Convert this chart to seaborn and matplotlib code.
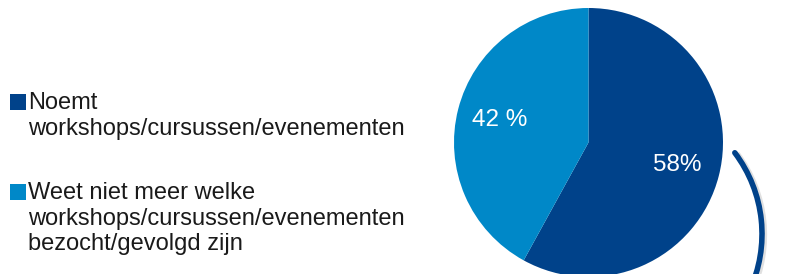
import matplotlib
matplotlib.use("Agg")
import matplotlib.pyplot as plt
from matplotlib.patches import Arc
import seaborn as sns

# data
categories = ["Noemt\nworkshops/cursussen/evenementen",
              "Weet niet meer welke\nworkshops/cursussen/evenementen\nbezocht/gevolgd zijn"]
shares = [58, 42]
pct_labels = ["58%", "42 %"]
colors = ["#00428A", "#0088C8"]

sns.set_theme(style="white")
plt.rcParams["font.family"] = ["Liberation Sans", "DejaVu Sans"]

W, H = 801, 274
fig = plt.figure(figsize=(W / 100, H / 100), dpi=100)

# pie axes (pixel placement)
ax = fig.add_axes([454 / W, -3 / H, 269 / W, 269 / H])
wedges, texts, autotexts = ax.pie(shares, colors=colors, startangle=90, counterclock=False,
                                  autopct="%d%%", pctdistance=0.68, radius=1,
                                  wedgeprops=dict(linewidth=0))
for t, lab in zip(autotexts, pct_labels):
    t.set_text(lab)
    t.set_color("white")
    t.set_fontsize(17.5)
ax.set_xlim(-1, 1)
ax.set_ylim(-1, 1)
ax.set_aspect("equal")
ax.axis("off")

# overlay in pixel coordinates for legend and swoosh
ov = fig.add_axes([0, 0, 1, 1], zorder=-1)
ov.set_xlim(0, W)
ov.set_ylim(H, 0)
ov.axis("off")
ov.patch.set_alpha(0)

# decorative arc
shadow = Arc((629, 235), 270, 270, theta1=-37, theta2=25, color="#e0e0e0", lw=4.5)
ov.add_patch(shadow)
swoosh = Arc((627, 234), 270, 270, theta1=-37, theta2=25, color=colors[0], lw=4)
swoosh.set_capstyle("round")
ov.add_patch(swoosh)

# legend drawn manually
legend_y = [96, 186]
for cat, col, y in zip(categories, colors, legend_y):
    ov.scatter([18], [y + 6], marker="s", s=120, color=col, linewidths=0)
    ov.text(28, y - 4, cat, fontsize=17, color="#1a1a1a", va="top", ha="left",
            linespacing=1.22)

fig.savefig("out.png", dpi=100)
